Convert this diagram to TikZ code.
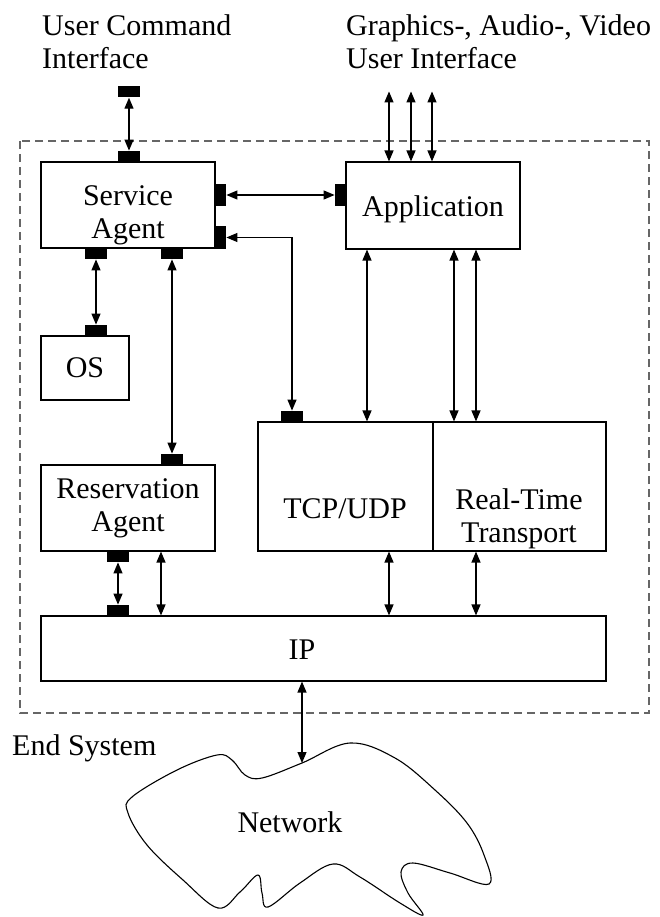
\documentclass[tikz,border=0pt]{standalone}
\usepackage{fontspec}
\setmainfont{Liberation Serif}
\usetikzlibrary{arrows.meta}

\tikzset{
  box/.style={draw,line width=1.1pt,inner sep=0pt},
  hport/.style={fill=black,minimum width=22pt,minimum height=11pt,inner sep=0pt},
  vport/.style={fill=black,minimum width=11pt,minimum height=22pt,inner sep=0pt},
  link/.style={{Triangle[length=11pt,width=9pt]}-{Triangle[length=11pt,width=9pt]},line width=1.2pt},
  frame/.style={dash pattern=on 8pt off 5pt,draw=black!60,line width=1.2pt}
}

\begin{document}
\begin{tikzpicture}
  [x=1pt,y=-1pt,every node/.style={font=\fontsize{30}{33}\selectfont,align=center,inner sep=0pt}]
\useasboundingbox (0,0) rectangle (660,917);

% end system frame
\draw[frame] (20,141) rectangle (649,713);
\node (endsys)[anchor=base west] at (12,755) {End System};

% outside labels
\node (uci)[anchor=north west,align=left] at (42,14) {User Command\\Interface};
\node (gui)[anchor=north west,align=left] at (346,14) {Graphics-, Audio-, Video\\User Interface};

% boxes
\node (sa)[box,minimum width=174pt,minimum height=86pt] at (128,205) {};
\node (app)[box,minimum width=174pt,minimum height=87pt] at (433,205.5) {};
\node (os)[box,minimum width=88pt,minimum height=64pt] at (85,368) {OS};
\node (ra)[box,minimum width=174pt,minimum height=86pt] at (128,508) {Reservation\\Agent};
\node (tcp)[box,minimum width=175pt,minimum height=129pt] at (345.5,486.5) {};
\node (rtt)[box,minimum width=173pt,minimum height=129pt] at (519.5,486.5) {};
\node (ip)[box,minimum width=565pt,minimum height=65pt] at (323.5,648.5) {};

\node (saTxt)[anchor=north] at (128,185) {Service\\Agent};
\node (appTxt)[anchor=base] at (433,217) {Application};
\node (tcpTxt)[anchor=base] at (345,518) {TCP/UDP};
\node (rttTxt)[anchor=north] at (519,488.5) {Real-Time\\Transport};
\node (ipTxt)[anchor=base] at (302,659) {IP};

% ports
\node (ucP)[hport] at (129,92) {};
\node (saN)[hport,anchor=south] at (129,162) {};
\node (saE1)[vport,anchor=west] at (215,195) {};
\node (saE2)[vport,anchor=west] at (215,237.5) {};
\node (appW)[vport,anchor=east] at (346,195) {};
\node (saS1)[hport,anchor=north] at (96,248) {};
\node (saS2)[hport,anchor=north] at (172,248) {};
\node (osN)[hport,anchor=south] at (96,336) {};
\node (raN)[hport,anchor=south] at (172,465) {};
\node (tcpN)[hport,anchor=south] at (292,422) {};
\node (raS)[hport,anchor=north] at (118,551) {};
\node (ipN)[hport,anchor=south] at (118,616) {};

\draw[link] (ucP) -- (saN);
\draw[link] (saE1) -- (appW);
\draw[link] (saE2.east) -| (tcpN.north);
\draw[link] (saS1) -- (osN);
\draw[link] (saS2) -- (raN);
\draw[link] (raS) -- (ipN);

% application to the user and to transport
\foreach \dx [count=\i] in {-44,-22,-1} {
  \coordinate (at\i) at ([xshift=\dx pt]app.north);
  \draw[link] (at\i) -- ++(0,-70);
}
\foreach \dx [count=\i] in {-66,21,43} {
  \coordinate (ab\i) at ([xshift=\dx pt]app.south);
  \draw[link] (ab\i) -- (ab\i |- tcp.north);
}

% down to IP
\coordinate (ra2) at ([xshift=33pt]ra.south);
\coordinate (tcpS) at ([xshift=43.5pt]tcp.south);
\coordinate (rttS) at ([xshift=-43.5pt]rtt.south);
\draw[link] (ra2) -- (ra2 |- ip.north);
\draw[link] (tcpS) -- (tcpS |- ip.north);
\draw[link] (rttS) -- (rttS |- ip.north);

% network cloud
\coordinate (netTop) at (302,763);
\coordinate (ipS) at ([xshift=-21.5pt]ip.south);
\draw[link] (ipS) -- (netTop);
\draw[line width=1.1pt] plot[smooth cycle,tension=0.6] coordinates {
  (302,763) (350,743) (395,758) (435,790) (467,823) (484,855) (489,884)
  (450,873) (413,863) (401,872) (408,893) (423,915) (400,903) (360,877)
  (333,864) (300,883) (268,907) (262,893) (258,875) (240,892) (218,908)
  (183,880) (147,845) (128,813) (132,797) (177,770) (217,755) (232,760)
  (245,775) (262,778)};
\node (net)[anchor=base] at (290,832) {Network};
\end{tikzpicture}
\end{document}
